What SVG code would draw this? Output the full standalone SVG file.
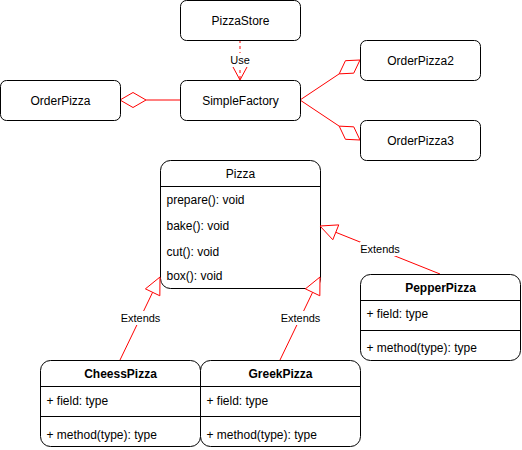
<svg xmlns="http://www.w3.org/2000/svg" width="522" height="450" viewBox="0 0 522 450">
<style>
.box{fill:#fff;stroke:#000;stroke-width:1}
.t{font-family:"Liberation Sans",Arial,sans-serif;font-size:12px;fill:#000}
.c{text-anchor:middle}
.b{font-weight:bold}
.lbl{font-family:"Liberation Sans",Arial,sans-serif;font-size:11px;fill:#000;text-anchor:middle}
.ln{stroke:#ff0000;stroke-width:1;fill:none}
.hd{fill:#fff;stroke:#ff0000;stroke-width:1}
.sep{stroke:#000;stroke-width:1}
</style>
<rect width="522" height="450" fill="#fff"/>
<g id="connectors">
  <line class="ln" x1="240" y1="40" x2="240" y2="80" stroke-dasharray="3 3"/>
  <polyline class="ln" points="233,67 240,80 247,67"/>
  <rect x="230" y="53" width="20" height="14" fill="#fff"/>
  <text class="lbl" x="240" y="64">Use</text>

  <line class="ln" x1="146" y1="100" x2="180" y2="100"/>
  <polygon class="hd" points="120,100 133,92.5 146,100 133,107.5"/>

  <line class="ln" x1="300" y1="100" x2="339.2" y2="73.87"/>
  <polygon class="hd" points="360,60 345.44,60.69 339.2,73.87 353.76,73.17"/>
  <line class="ln" x1="300" y1="100" x2="339.2" y2="126.13"/>
  <polygon class="hd" points="360,140 345.44,139.31 339.2,126.13 353.76,126.83"/>

  <line class="ln" x1="120" y1="360" x2="152.62" y2="292.32"/>
  <line class="ln" x1="280" y1="360" x2="312.62" y2="292.32"/>
  <line class="ln" x1="440" y1="274" x2="335.78" y2="232.31"/>
</g>
<g id="PizzaStore">
  <rect class="box" x="180.5" y="0.5" width="120" height="40" rx="6"/>
  <text class="t c" x="240.5" y="24.5">PizzaStore</text>
</g>
<g id="SimpleFactory">
  <rect class="box" x="180.5" y="80.5" width="120" height="40" rx="6"/>
  <text class="t c" x="240.5" y="104.5">SimpleFactory</text>
</g>
<g id="OrderPizza">
  <rect class="box" x="0.5" y="80.5" width="120" height="40" rx="6"/>
  <text class="t c" x="60.5" y="104.5">OrderPizza</text>
</g>
<g id="OrderPizza2">
  <rect class="box" x="360.5" y="40.5" width="120" height="40" rx="6"/>
  <text class="t c" x="420.5" y="64.5">OrderPizza2</text>
</g>
<g id="OrderPizza3">
  <rect class="box" x="360.5" y="120.5" width="120" height="40" rx="6"/>
  <text class="t c" x="420.5" y="144.5">OrderPizza3</text>
</g>
<g id="Pizza">
  <rect class="box" x="160.5" y="160.5" width="160" height="128" rx="10"/>
  <line class="sep" x1="160.5" y1="186.5" x2="320.5" y2="186.5"/>
  <text class="t c" x="240.5" y="178">Pizza</text>
  <text class="t" x="166.5" y="203.5">prepare(): void</text>
  <text class="t" x="166.5" y="229.5">bake(): void</text>
  <text class="t" x="166.5" y="255.5">cut(): void</text>
  <text class="t" x="166.5" y="279.5">box(): void</text>
</g>
<g id="CheessPizza">
  <rect class="box" x="40.5" y="360.5" width="160" height="86" rx="10"/>
  <line class="sep" x1="40.5" y1="386.5" x2="200.5" y2="386.5"/>
  <line class="sep" x1="40.5" y1="416.5" x2="200.5" y2="416.5"/>
  <text class="t c b" x="120.5" y="378">CheessPizza</text>
  <text class="t" x="46.5" y="404.5">+ field: type</text>
  <text class="t" x="46.5" y="438.5">+ method(type): type</text>
</g>
<g id="GreekPizza">
  <rect class="box" x="200.5" y="360.5" width="160" height="86" rx="10"/>
  <line class="sep" x1="200.5" y1="386.5" x2="360.5" y2="386.5"/>
  <line class="sep" x1="200.5" y1="416.5" x2="360.5" y2="416.5"/>
  <text class="t c b" x="280.5" y="378">GreekPizza</text>
  <text class="t" x="206.5" y="404.5">+ field: type</text>
  <text class="t" x="206.5" y="438.5">+ method(type): type</text>
</g>
<g id="PepperPizza">
  <rect class="box" x="360.5" y="274.5" width="160" height="86" rx="10"/>
  <line class="sep" x1="360.5" y1="300.5" x2="520.5" y2="300.5"/>
  <line class="sep" x1="360.5" y1="330.5" x2="520.5" y2="330.5"/>
  <text class="t c b" x="440.5" y="292">PepperPizza</text>
  <text class="t" x="366.5" y="318">+ field: type</text>
  <text class="t" x="366.5" y="352">+ method(type): type</text>
</g>
<g id="extends-heads">
  <polygon class="hd" points="160,277 159.83,295.79 145.41,288.85"/>
  <polygon class="hd" points="320,277 319.83,295.79 305.41,288.85"/>
  <polygon class="hd" points="320,226 338.75,224.88 332.81,239.74"/>
  <rect x="120.5" y="311" width="40" height="14" fill="#fff"/>
  <text class="lbl" x="140.5" y="322">Extends</text>
  <rect x="280.5" y="311" width="40" height="14" fill="#fff"/>
  <text class="lbl" x="300.5" y="322">Extends</text>
  <rect x="360" y="242" width="40" height="14" fill="#fff"/>
  <text class="lbl" x="380" y="253">Extends</text>
</g>
</svg>
